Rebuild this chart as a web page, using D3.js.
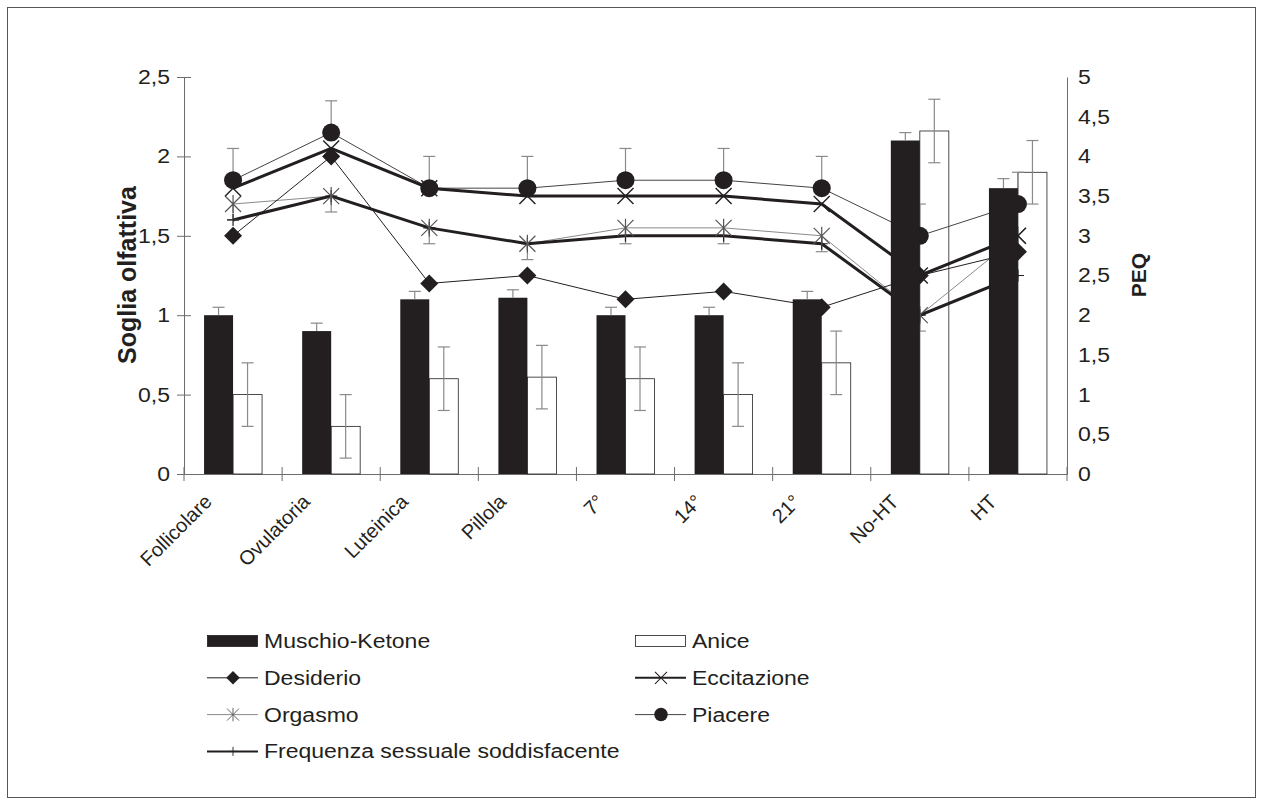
<!DOCTYPE html>
<html>
<head>
<meta charset="utf-8">
<script src="https://cdn.jsdelivr.net/npm/d3@7"></script>
<style>
  body { margin: 0; background: #fff; }
  text { font-family: "Liberation Sans", Arial, sans-serif; fill: #231f20; }
</style>
</head>
<body>
<div id="chart"></div>
<script>
const categories = ['Follicolare', 'Ovulatoria', 'Luteinica', 'Pillola', '7°', '14°', '21°', 'No-HT', 'HT'];

// Soglia olfattiva (left axis)
const muschio    = [1.0, 0.9, 1.1, 1.11, 1.0, 1.0, 1.1, 2.1, 1.8];
const muschioErr = [0.05, 0.05, 0.05, 0.05, 0.05, 0.05, 0.05, 0.05, 0.06];
const anice      = [0.5, 0.3, 0.6, 0.61, 0.6, 0.5, 0.7, 2.16, 1.9];
const aniceErr   = [0.2, 0.2, 0.2, 0.2, 0.2, 0.2, 0.2, 0.2, 0.2];

// PEQ (right axis)
const desiderio   = [3.0, 4.0, 2.4, 2.5, 2.2, 2.3, 2.1, 2.5, 2.8];
const eccitazione = [3.6, 4.1, 3.6, 3.5, 3.5, 3.5, 3.4, 2.5, 3.0];
const orgasmo     = [3.4, 3.5, 3.1, 2.9, 3.1, 3.1, 3.0, 2.0, 3.0];
const orgasmoErr  = [0.2, 0.2, 0.2, 0.2, 0.2, 0.2, 0.2, 0.2, 0.2];
const piacere     = [3.7, 4.3, 3.6, 3.6, 3.7, 3.7, 3.6, 3.0, 3.4];
const piacereErr  = [0.4, 0.4, 0.4, 0.4, 0.4, 0.4, 0.4, 0.4, 0.4];
const frequenza   = [3.2, 3.5, 3.1, 2.9, 3.0, 3.0, 2.9, 2.0, 2.5];

const leftTicks  = [0, 0.5, 1, 1.5, 2, 2.5];
const rightTicks = [0, 0.5, 1, 1.5, 2, 2.5, 3, 3.5, 4, 4.5, 5];

const black = '#231f20', grey = '#8a8a8a', axisCol = '#6d6d6d';
const comma = d => String(d).replace('.', ',');

// the source picture is a bit wider than tall, so flat text is stretched
const stretch = 1.15;
function widen(sel) {
  sel.each(function() {
    const w = this.getComputedTextLength();
    d3.select(this)
        .attr('textLength', w * stretch)
        .attr('lengthAdjust', 'spacingAndGlyphs');
  });
}

const svg = d3.select('#chart').append('svg')
    .attr('width', 1263)
    .attr('height', 805);

svg.append('rect')
    .attr('x', 7.5).attr('y', 7.5)
    .attr('width', 1248).attr('height', 790)
    .attr('fill', 'none')
    .attr('stroke', '#555');

const x = d3.scaleBand().domain(categories).range([184, 1067]);
const xSub = d3.scaleBand().domain(['muschio', 'anice'])
    .range([x.bandwidth() / 2 - 29, x.bandwidth() / 2 + 29]);
const cx = c => x(c) + x.bandwidth() / 2;

const yL = d3.scaleLinear().domain([0, 2.5]).range([474, 77]);
const yR = d3.scaleLinear().domain([0, 5]).range([474, 77]);

// axes
const gL = svg.append('g')
    .attr('transform', 'translate(184,0)')
    .call(d3.axisLeft(yL).tickValues(leftTicks).tickFormat(comma)
      .tickSizeOuter(0).tickSize(7).tickPadding(7));
gL.selectAll('.tick line').attr('x1', 7);

const gR = svg.append('g')
    .attr('transform', 'translate(1067,0)')
    .call(d3.axisRight(yR).tickValues(rightTicks).tickFormat(comma)
      .tickSizeOuter(0).tickSize(0).tickPadding(11));

const gB = svg.append('g')
    .attr('transform', 'translate(0,474)')
    .call(d3.axisBottom(x).tickSize(0).tickSizeOuter(0).tickFormat(''));
gB.selectAll('.tick line')
    .attr('transform', 'translate(' + (-x.bandwidth() / 2) + ',0)')
    .attr('y1', -7).attr('y2', 7);
gB.append('line')
    .attr('x1', 1067).attr('x2', 1067)
    .attr('y1', -7).attr('y2', 7)
    .attr('stroke', axisCol);

[gL, gR, gB].forEach(g => {
  g.selectAll('path, line').attr('stroke', axisCol);
  g.selectAll('text')
      .style('font-size', '20px')
      .style('font-family', '"Liberation Sans", Arial, sans-serif')
      .attr('fill', black)
      .call(widen);
});

svg.append('g').selectAll('text')
    .data(categories)
  .enter().append('text')
    .attr('transform', d => 'translate(' + (cx(d) - 20) + ',503) rotate(-45)')
    .attr('text-anchor', 'end')
    .style('font-size', '20px')
    .text(d => d);

svg.append('text')
    .attr('transform', 'translate(136,275) rotate(-90)')
    .attr('text-anchor', 'middle')
    .style('font-size', '25px')
    .style('font-weight', 'bold')
    .text('Soglia olfattiva');

svg.append('text')
    .attr('transform', 'translate(1146,275) rotate(-90)')
    .attr('text-anchor', 'middle')
    .style('font-size', '21px')
    .style('font-weight', 'bold')
    .text('PEQ');

// error bar helper
function errBar(g, px, v, e, scale, dir) {
  const y0 = scale(v), y1 = scale(v + dir * e);
  g.append('line').attr('x1', px).attr('x2', px).attr('y1', y0).attr('y2', y1);
  g.append('line').attr('x1', px - 6).attr('x2', px + 6).attr('y1', y1).attr('y2', y1);
}

// Anice bars (under the lines)
svg.append('g').selectAll('rect')
    .data(anice)
  .enter().append('rect')
    .attr('x', (d, i) => x(categories[i]) + xSub('anice'))
    .attr('y', d => yL(d))
    .attr('width', xSub.bandwidth())
    .attr('height', d => yL(0) - yL(d))
    .attr('fill', '#fff')
    .attr('stroke', black)
    .attr('stroke-width', 0.8);

const eA = svg.append('g').attr('stroke', grey).attr('stroke-width', 1.2);
anice.forEach((d, i) => {
  const px = x(categories[i]) + xSub('anice') + xSub.bandwidth() / 2;
  errBar(eA, px, d, aniceErr[i], yL, 1);
  errBar(eA, px, d, aniceErr[i], yL, -1);
});

// lines
const line = d3.line().x((d, i) => cx(categories[i])).y(d => yR(d));
const series = [
  {data: orgasmo, stroke: grey, width: 1},
  {data: desiderio, stroke: black, width: 1},
  {data: piacere, stroke: '#444', width: 1},
  {data: frequenza, stroke: black, width: 3},
  {data: eccitazione, stroke: black, width: 3}
];
series.forEach(s => {
  svg.append('path')
      .attr('d', line(s.data))
      .attr('fill', 'none')
      .attr('stroke', s.stroke)
      .attr('stroke-width', s.width);
});

// error bars on lines
const eL = svg.append('g').attr('stroke', grey).attr('stroke-width', 1.2);
orgasmo.forEach((d, i) => errBar(eL, cx(categories[i]), d, orgasmoErr[i], yR, -1));
piacere.forEach((d, i) => errBar(eL, cx(categories[i]), d, piacereErr[i], yR, 1));

// markers
function marker(g, type, px, py) {
  if (type === 'diamond') {
    g.append('path')
        .attr('d', `M${px},${py - 9}L${px + 9},${py}L${px},${py + 9}L${px - 9},${py}Z`)
        .attr('fill', black);
  } else if (type === 'circle') {
    g.append('circle').attr('cx', px).attr('cy', py).attr('r', 9).attr('fill', black);
  } else if (type === 'x') {
    g.append('path')
        .attr('d', `M${px - 8},${py - 8}L${px + 8},${py + 8}M${px - 8},${py + 8}L${px + 8},${py - 8}`)
        .attr('stroke', black).attr('stroke-width', 1.4);
  } else if (type === 'star') {
    g.append('path')
        .attr('d', `M${px - 8},${py - 8}L${px + 8},${py + 8}M${px - 8},${py + 8}L${px + 8},${py - 8}M${px},${py - 9}L${px},${py + 9}`)
        .attr('stroke', '#555').attr('stroke-width', 1.2);
  } else if (type === 'plus') {
    g.append('path')
        .attr('d', `M${px - 6},${py}L${px + 6},${py}M${px},${py - 6}L${px},${py + 6}`)
        .attr('stroke', black).attr('stroke-width', 1.2);
  }
}
const gM = svg.append('g');
frequenza.forEach((d, i) => marker(gM, 'plus', cx(categories[i]), yR(d)));
orgasmo.forEach((d, i) => marker(gM, 'star', cx(categories[i]), yR(d)));
eccitazione.forEach((d, i) => marker(gM, 'x', cx(categories[i]), yR(d)));
desiderio.forEach((d, i) => marker(gM, 'diamond', cx(categories[i]), yR(d)));
piacere.forEach((d, i) => marker(gM, 'circle', cx(categories[i]), yR(d)));

// Muschio bars (over the lines)
svg.append('g').selectAll('rect')
    .data(muschio)
  .enter().append('rect')
    .attr('x', (d, i) => x(categories[i]) + xSub('muschio'))
    .attr('y', d => yL(d))
    .attr('width', xSub.bandwidth())
    .attr('height', d => yL(0) - yL(d))
    .attr('fill', black);

const eM = svg.append('g').attr('stroke', grey).attr('stroke-width', 1.2);
muschio.forEach((d, i) => {
  const px = x(categories[i]) + xSub('muschio') + xSub.bandwidth() / 2;
  errBar(eM, px, d, muschioErr[i], yL, 1);
});

// legend
const legendItems = [
  {name: 'Muschio-Ketone', kind: 'bar', fill: black},
  {name: 'Anice', kind: 'bar', fill: '#fff'},
  {name: 'Desiderio', kind: 'line', marker: 'diamond', width: 1, stroke: black},
  {name: 'Eccitazione', kind: 'line', marker: 'x', width: 2, stroke: black},
  {name: 'Orgasmo', kind: 'line', marker: 'star', width: 1, stroke: grey},
  {name: 'Piacere', kind: 'line', marker: 'circle', width: 1, stroke: '#444'},
  {name: 'Frequenza sessuale soddisfacente', kind: 'line', marker: 'plus', width: 2, stroke: black}
];
const lg = svg.append('g');
legendItems.forEach((d, i) => {
  const lx = i % 2 === 0 ? 207 : 635;
  const ly = 641 + Math.floor(i / 2) * 36.8;
  if (d.kind === 'bar') {
    lg.append('rect')
        .attr('x', lx + 0.5).attr('y', ly - 5.5)
        .attr('width', 50).attr('height', 11)
        .attr('fill', d.fill)
        .attr('stroke', black).attr('stroke-width', 0.8);
  } else {
    lg.append('line')
        .attr('x1', lx).attr('x2', lx + 51)
        .attr('y1', ly).attr('y2', ly)
        .attr('stroke', d.stroke).attr('stroke-width', d.width);
    const g = lg.append('g').attr('transform', 'translate(' + (lx + 26) + ',' + ly + ') scale(0.75)');
    marker(g, d.marker, 0, 0);
  }
  lg.append('text')
      .attr('x', lx + 57)
      .attr('y', ly + 7)
      .style('font-size', '20px')
      .text(d.name)
      .call(widen);
});
</script>
</body>
</html>
